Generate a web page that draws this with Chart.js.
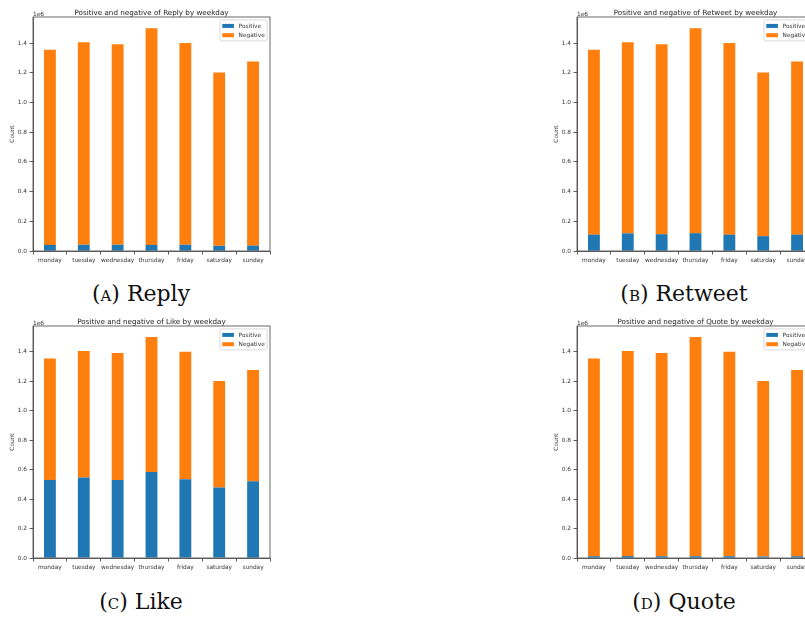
<!DOCTYPE html>
<html>
<head>
<meta charset="utf-8">
<script src="https://cdn.jsdelivr.net/npm/chart.js@4"></script>
<style>
  html, body { margin: 0; padding: 0; background: #fff; }
  body { width: 805px; height: 617px; overflow: hidden; position: relative; }
  canvas { position: absolute; }
  .cap {
    position: absolute; width: 300px; text-align: center;
    font-family: "DejaVu Serif", serif; font-size: 22px; color: #111;
    line-height: 26px;
  }
  .sc { font-variant: small-caps; }
</style>
</head>
<body>
<canvas id="reply" width="290" height="275" style="left:0px;top:0px"></canvas>
<canvas id="retweet" width="290" height="275" style="left:544px;top:0px"></canvas>
<canvas id="like" width="290" height="275" style="left:0px;top:309px"></canvas>
<canvas id="quote" width="290" height="275" style="left:544px;top:309px"></canvas>

<div class="cap" style="left:-9px;top:281px">(<span class="sc">a</span>) Reply</div>
<div class="cap" style="left:534px;top:281px">(<span class="sc">b</span>) Retweet</div>
<div class="cap" style="left:-9px;top:589px">(<span class="sc">c</span>) Like</div>
<div class="cap" style="left:534px;top:589px">(<span class="sc">d</span>) Quote</div>

<script>
// Weekday categories shared by all four panels
const weekdays = ['monday', 'tuesday', 'wednesday', 'thursday', 'friday', 'saturday', 'sunday'];

// Y ticks (counts, shown in units of 1e6)
const yTicks = [0, 200000, 400000, 600000, 800000, 1000000, 1200000, 1400000];
const yMax = 1575000;

// Reply
const replyPositive = [41000, 42000, 42000, 41000, 42000, 35000, 36000];
const replyNegative = [1314000, 1363000, 1349000, 1459000, 1358000, 1167000, 1240000];

// Retweet
const retweetPositive = [110000, 119000, 113000, 120000, 110000, 100000, 110000];
const retweetNegative = [1245000, 1286000, 1278000, 1380000, 1290000, 1102000, 1166000];

// Like
const likePositive = [530000, 547000, 530000, 584000, 535000, 479000, 521000];
const likeNegative = [825000, 858000, 861000, 916000, 865000, 723000, 755000];

// Quote
const quotePositive = [12000, 13000, 12000, 12000, 12000, 10000, 12000];
const quoteNegative = [1343000, 1392000, 1379000, 1488000, 1388000, 1192000, 1264000];

const BLUE = '#1f77b4';
const ORANGE = '#ff7f0e';
const INK = '#333333';
const FONT = '"DejaVu Sans", sans-serif';
const TICK_SIZE = 5.83;
const TITLE_SIZE = 7.2;

// Frame, title, offset label, axis label and legend drawn around the plot area
const panelDecor = {
  id: 'panelDecor',
  afterDraw(chart, args, opts) {
    const ctx = chart.ctx;
    const a = chart.chartArea;
    ctx.save();

    // axes frame
    ctx.strokeStyle = '#444';
    ctx.lineWidth = 0.8;
    ctx.strokeRect(a.left, a.top, a.right - a.left, a.bottom - a.top);

    // title
    ctx.fillStyle = '#222';
    ctx.font = TITLE_SIZE + 'px ' + FONT;
    ctx.textAlign = 'center';
    ctx.textBaseline = 'alphabetic';
    ctx.fillText(opts.title, (a.left + a.right) / 2, a.top - 2.5);

    // offset label
    ctx.fillStyle = INK;
    ctx.font = TICK_SIZE + 'px ' + FONT;
    ctx.textAlign = 'left';
    ctx.fillText('1e6', a.left, a.top - 1);

    // y axis label
    ctx.save();
    ctx.translate(a.left - 21, (a.top + a.bottom) / 2);
    ctx.rotate(-Math.PI / 2);
    ctx.textAlign = 'center';
    ctx.textBaseline = 'middle';
    ctx.fillText('Count', 0, 0);
    ctx.restore();

    // legend box
    const em = TICK_SIZE;
    const ds = chart.data.datasets;
    let tw = 0;
    ds.forEach(d => { tw = Math.max(tw, ctx.measureText(d.label).width); });
    const boxW = 0.4 * em + 2.0 * em + 0.8 * em + tw + 0.4 * em;
    const right = a.right - 0.5 * em;
    const left = right - boxW;
    const top = a.top + 0.5 * em;
    const boxH = 21;
    const r = 1.5;
    ctx.beginPath();
    ctx.moveTo(left + r, top);
    ctx.lineTo(right - r, top);
    ctx.quadraticCurveTo(right, top, right, top + r);
    ctx.lineTo(right, top + boxH - r);
    ctx.quadraticCurveTo(right, top + boxH, right - r, top + boxH);
    ctx.lineTo(left + r, top + boxH);
    ctx.quadraticCurveTo(left, top + boxH, left, top + boxH - r);
    ctx.lineTo(left, top + r);
    ctx.quadraticCurveTo(left, top, left + r, top);
    ctx.closePath();
    ctx.fillStyle = 'rgba(255,255,255,0.8)';
    ctx.fill();
    ctx.strokeStyle = '#d0d0d0';
    ctx.lineWidth = 0.8;
    ctx.stroke();

    ds.forEach((d, i) => {
      const cy = top + 6 + i * 9.3;
      const hx = left + 0.4 * em;
      ctx.fillStyle = d.backgroundColor;
      ctx.fillRect(hx, cy - 2, 2.0 * em, 4);
      ctx.fillStyle = INK;
      ctx.textAlign = 'left';
      ctx.textBaseline = 'middle';
      ctx.fillText(d.label, hx + 2.8 * em, cy + 0.3);
    });

    ctx.restore();
  }
};

function makePanel(id, name, positive, negative, areaBottom) {
  const H = 275;
  new Chart(document.getElementById(id), {
    type: 'bar',
    data: {
      labels: weekdays,
      datasets: [
        { label: 'Positive', data: positive, backgroundColor: BLUE,
          barPercentage: 0.35, categoryPercentage: 1.0, borderWidth: 0 },
        { label: 'Negative', data: negative, backgroundColor: ORANGE,
          barPercentage: 0.35, categoryPercentage: 1.0, borderWidth: 0 }
      ]
    },
    options: {
      responsive: false,
      animation: false,
      devicePixelRatio: 1,
      layout: { padding: { left: 0, right: 20, top: 17, bottom: 0 } },
      plugins: {
        legend: { display: false },
        title: { display: false },
        tooltip: { enabled: false },
        panelDecor: { title: 'Positive and negative of ' + name + ' by weekday' }
      },
      scales: {
        x: {
          stacked: true,
          offset: true,
          grid: { display: true, drawOnChartArea: false, drawTicks: true, tickLength: 3.5, color: INK, lineWidth: 0.8 },
          border: { display: true, color: '#444', width: 0.8 },
          ticks: { color: INK, font: { family: FONT, size: TICK_SIZE }, padding: 2, maxRotation: 0, autoSkip: false },
          afterFit(s) { s.height = H - areaBottom; }
        },
        y: {
          stacked: true,
          min: 0,
          max: yMax,
          grid: { display: true, drawOnChartArea: false, drawTicks: true, tickLength: 3.5, color: INK, lineWidth: 0.8 },
          border: { display: true, color: '#444', width: 0.8 },
          ticks: {
            stepSize: 200000,
            color: INK,
            font: { family: FONT, size: TICK_SIZE },
            padding: 2.5,
            callback: v => (v / 1e6).toFixed(1)
          },
          afterBuildTicks(s) { s.ticks = yTicks.map(v => ({ value: v })); },
          afterFit(s) { s.width = 33; }
        }
      }
    },
    plugins: [panelDecor]
  });
}

makePanel('reply', 'Reply', replyPositive, replyNegative, 251);
makePanel('retweet', 'Retweet', retweetPositive, retweetNegative, 251);
makePanel('like', 'Like', likePositive, likeNegative, 249);
makePanel('quote', 'Quote', quotePositive, quoteNegative, 249);
</script>
</body>
</html>
